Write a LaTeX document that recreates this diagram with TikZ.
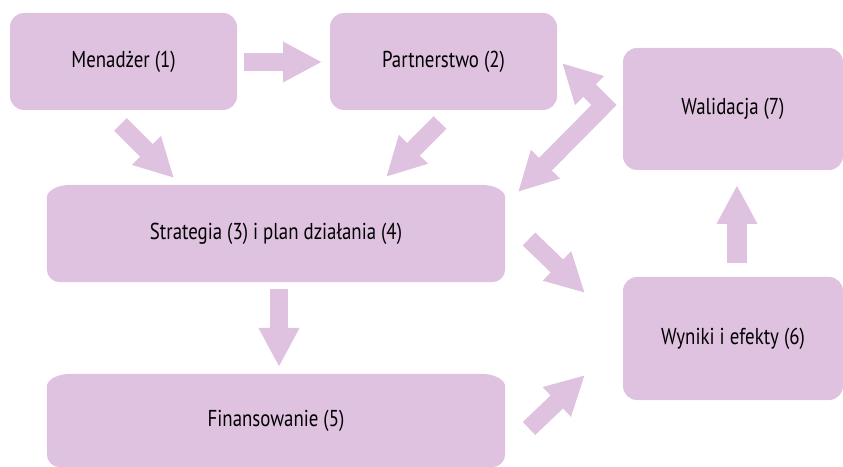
\documentclass[tikz,border=0pt]{standalone}
\usepackage{fontspec}
\setmainfont{PT Sans}[FakeStretch=0.82]
\usetikzlibrary{arrows.meta,backgrounds}
\definecolor{lilac}{RGB}{223,194,223}
\tikzset{
  x=1pt, y=1pt,
  label font/.style={font=\fontsize{23}{26}\selectfont, text=black},
  card/.style={label font, fill=lilac, rounded corners=14pt, inner sep=0pt},
  slab/.style={label font, inner sep=0pt},
  fatarrow/.style={draw=lilac, line width=18pt, line cap=butt, line join=miter, -{Triangle[length=39pt, width=38pt]}},
  fatdouble/.style={draw=lilac, line width=18pt, line cap=butt, line join=miter, {Triangle[length=39pt, width=38pt]}-{Triangle[length=39pt, width=38pt]}},
}
% wide box with oval top corners and round bottom corners
\newcommand\ovalslab[1]{%
  \fill[lilac] ([yshift=13pt]#1.south west) -- ([yshift=-13pt]#1.north west)
    arc[start angle=180, end angle=90, x radius=24pt, y radius=13pt]
    -- ([xshift=-24pt]#1.north east)
    arc[start angle=90, end angle=0, x radius=24pt, y radius=13pt]
    -- ([yshift=13pt]#1.south east)
    arc[start angle=0, end angle=-90, radius=13pt]
    -- ([xshift=13pt]#1.south west)
    arc[start angle=270, end angle=180, radius=13pt] -- cycle;}
\begin{document}
\begin{tikzpicture}
\useasboundingbox (0,0) rectangle (843,466);

% boxes
\node[card, minimum width=227pt, minimum height=97pt] (men) at (123.5,404.5) {Menadżer (1)};
\node[card, minimum width=227pt, minimum height=97pt] (par) at (443.5,404.5) {Partnerstwo (2)};
\node[card, minimum width=220pt, minimum height=122pt] (wal) at (733,357) {Walidacja (7)};
\node[card, minimum width=220pt, minimum height=123pt] (wyn) at (733,127.5) {Wyniki i efekty (6)};
\node[slab, minimum width=458pt, minimum height=97pt] (str) at (276,232.5) {Strategia (3) i plan działania (4)};
\node[slab, minimum width=458pt, minimum height=93pt] (fin) at (276,45.5) {Finansowanie (5)};
\begin{scope}[on background layer]
  \ovalslab{str}
  \ovalslab{fin}
\end{scope}

% arrow end points
\coordinate (menR) at (244,404);
\coordinate (parL) at (322,404);
\coordinate (menB) at (120.5,341.5);
\coordinate (strA) at (174,288);
\coordinate (parB) at (440,343.5);
\coordinate (strB) at (386,289);
\coordinate (strC) at (518,274);
\coordinate (bend) at (604,361);
\coordinate (parR) at (562,403);
\coordinate (strR) at (529,227);
\coordinate (wynA) at (585,173);
\coordinate (finR) at (529,37.5);
\coordinate (wynB) at (585,91);
\coordinate (wynT) at (737,203);
\coordinate (walB) at (737,281);
\coordinate (strD) at (279,177);
\coordinate (finT) at (279,99);

% arrows
\draw[fatarrow] (menR) -- (parL);
\draw[fatarrow] (menB) -- (strA);
\draw[fatarrow] (parB) -- (strB);
\draw[fatdouble] (strC) -- (bend) -- (parR);
\draw[fatarrow] (strR) -- (wynA);
\draw[fatarrow] (finR) -- (wynB);
\draw[fatarrow, line width=20pt] (wynT) -- (walB);
\draw[fatarrow] (strD) -- (finT);
\end{tikzpicture}
\end{document}
